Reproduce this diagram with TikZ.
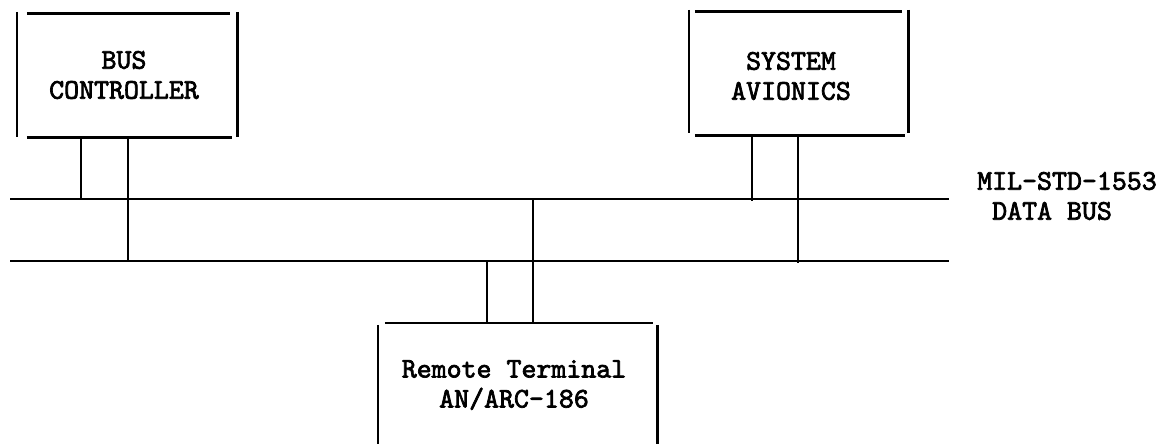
\documentclass[tikz,border=0pt]{standalone}
\usepackage{fontspec}
\newfontfamily\labfont{lmmono10-regular.otf}[FakeBold=2.5,OpticalSize=0]
\begin{document}
\begin{tikzpicture}[x=1pt,y=-1pt,
  line/.style={line width=2.6pt, black},
  lbl/.style={font=\labfont\fontsize{28.5}{30}\selectfont, align=center, inner sep=0pt},
  frame/.style={draw=none, inner sep=0pt, rectangle}]
\useasboundingbox (0,0) rectangle (1169,444);
% boxes (frames)
\node[frame, minimum width=220pt, minimum height=125pt] (bc) at (127,74.5) {};
\node[frame, minimum width=219pt, minimum height=123pt] (sa) at (798.5,71.5) {};
\node[frame, minimum width=279pt, minimum height=121pt] (rt) at (517.5,383.5) {};
% labels
\node[lbl] (bct) at (124,75) {BUS\\CONTROLLER};
\node[lbl] (sat) at (791,76) {SYSTEM\\AVIONICS};
\node[lbl] (rtt) at (514,385) {Remote Terminal\\AN/ARC-186};
\node[lbl, align=left, anchor=west] (busl) at (977,196) {MIL-STD-1553\\\hspace{15pt}DATA BUS};
% bus lines
\coordinate (b1w) at (10,199);
\coordinate (b1e) at (949,199);
\coordinate (b2w) at (10,261);
\coordinate (b2e) at (949,261);
\draw[line] (b1w) -- (b1e);
\draw[line] (b2w) -- (b2e);
% bus controller frame
\draw[line] (bc.north west) -- (bc.south west);
\draw[line] (bc.north east) -- (bc.south east);
\draw[line] ([xshift=10pt,yshift=-2pt]bc.north west) -- ([xshift=-7pt,yshift=-2pt]bc.north east);
\draw[line] ([xshift=10pt]bc.south west) -- ([xshift=-5pt]bc.south east);
% system avionics frame
\draw[line] (sa.north west) -- (sa.south west);
\draw[line] (sa.north east) -- (sa.south east);
\draw[line] ([xshift=6pt,yshift=-2pt]sa.north west) -- ([xshift=-6pt,yshift=-2pt]sa.north east);
\draw[line] ([xshift=6pt,yshift=-2pt]sa.south west) -- ([xshift=-3pt,yshift=-2pt]sa.south east);
% remote terminal frame (open at bottom)
\draw[line] ([yshift=-2pt]rt.north west) -- (rt.south west);
\draw[line] ([yshift=-2pt]rt.north east) -- (rt.south east);
\draw[line] ([xshift=7pt]rt.north west) -- ([xshift=-4pt]rt.north east);
% stubs
\draw[line] ([xshift=-46pt]bc.south) -- ([xshift=-46pt]bc.south |- b1w);
\draw[line] ([xshift=1pt]bc.south) -- ([xshift=1pt]bc.south |- b2w);
\draw[line] ([xshift=-46.5pt,yshift=-2pt]sa.south) -- ([xshift=-46.5pt,yshift=-2pt]sa.south |- b1w);
\draw[line] ([xshift=-0.5pt,yshift=-2pt]sa.south) -- ([xshift=-0.5pt,yshift=-2pt]sa.south |- b2w);
\draw[line] ([xshift=-30.5pt]rt.north) -- ([xshift=-30.5pt]rt.north |- b2w);
\draw[line] ([xshift=15.5pt]rt.north) -- ([xshift=15.5pt]rt.north |- b1w);
\end{tikzpicture}
\end{document}
